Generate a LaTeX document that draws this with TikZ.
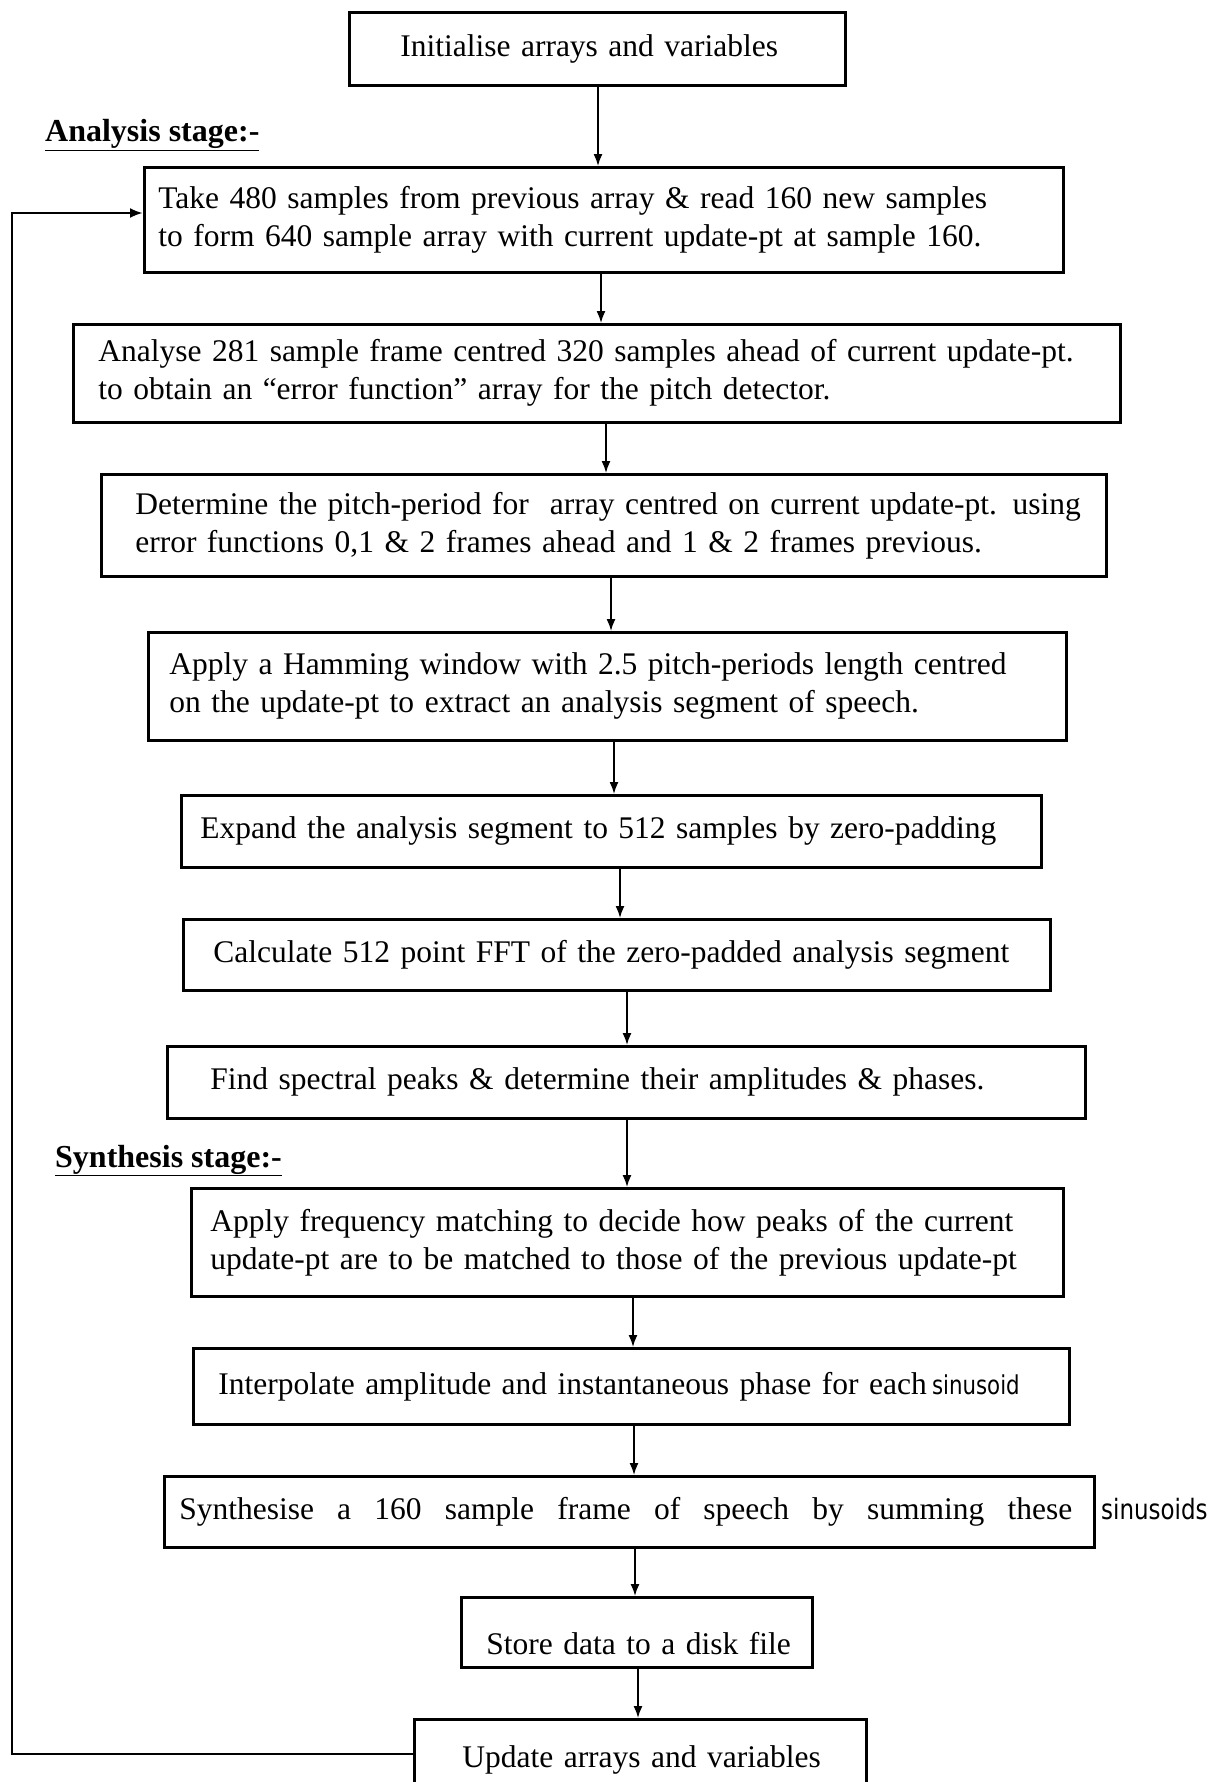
\documentclass[tikz,border=0pt]{standalone}
\usepackage{fontspec}
\setmainfont{Liberation Serif}
\newfontfamily\handfont[FakeStretch=0.82]{DejaVu Sans}
\usetikzlibrary{arrows.meta,calc}
\begin{document}
\begin{tikzpicture}[x=1pt,y=-1pt,
  box/.style={draw, line width=2.6pt, anchor=north west, inner ysep=0pt, align=left,
    font=\fontsize{31.5}{38}\selectfont},
  arr/.style={line width=1.6pt, -{Latex[length=12pt,width=9pt]}},
  looparr/.style={line width=2.8pt, -{Latex[length=13pt,width=10pt]}},
  lab/.style={anchor=base west, inner sep=0pt, font=\fontsize{32}{38}\selectfont\bfseries},
  hand/.style={font=\handfont\fontsize{28}{28}\selectfont}
]
\useasboundingbox (0,0) rectangle (1216,1782);
\clip (0,0) rectangle (1216,1782);

\node[box, minimum height=73pt, inner xsep=51pt, text width=394pt] (b1) at (348,11)
  {\mbox{Initialise arrays and variables}};
\node[lab] (la) at (45,142) {\underline{Analysis stage:-}};
\node[box, minimum height=105pt, inner xsep=14pt, text width=891pt] (b2) at (143,166)
  {\mbox{Take 480 samples from previous array \& read 160 new samples}\\
   \mbox{to form 640 sample array with current update-pt at sample 160.}};
\node[box, minimum height=98pt, inner xsep=25pt, text width=997pt] (b3) at (72,323)
  {\mbox{Analyse 281 sample frame centred 320 samples ahead of current update-pt.}\\
   \mbox{to obtain an ``error function'' array for the pitch detector.}};
\node[box, minimum height=102pt, inner xsep=34pt, text width=937pt] (b4) at (100,473)
  {\mbox{Determine the pitch-period for\ \ array centred on current update-pt. using}\\
   \mbox{error functions 0,1 \& 2 frames ahead and 1 \& 2 frames previous.}};
\node[box, minimum height=108pt, inner xsep=21pt, text width=876pt] (b5) at (147,631)
  {\mbox{Apply a Hamming window with 2.5 pitch-periods length centred}\\
   \mbox{on the update-pt to extract an analysis segment of speech.}};
\node[box, minimum height=72pt, inner xsep=19pt, text width=822pt] (b6) at (180,794)
  {\mbox{Expand the analysis segment to 512 samples by zero-padding}};
\node[box, minimum height=71pt, inner xsep=30pt, text width=807pt] (b7) at (182,918)
  {\mbox{Calculate 512 point FFT of the zero-padded analysis segment}};
\node[box, minimum height=72pt, inner xsep=43pt, text width=832pt] (b8) at (166,1045)
  {\mbox{Find spectral peaks \& determine their amplitudes \& phases.}};
\node[lab] (ls) at (55,1167) {\underline{Synthesis stage:-}};
\node[box, minimum height=108pt, inner xsep=19pt, text width=834pt] (b9) at (190,1187)
  {\mbox{Apply frequency matching to decide how peaks of the current}\\
   \mbox{update-pt are to be matched to those of the previous update-pt}};
\node[box, minimum height=76pt, inner xsep=25pt, text width=826pt] (b10) at (192,1347)
  {\mbox{Interpolate amplitude and instantaneous phase for each\,{\handfont\fontsize{26}{26}\selectfont sinusoid}}};
\node[box, minimum height=71pt, inner xsep=15pt, text width=900pt] (b11) at (163,1475)
  {\hbox to 893pt{Synthesise\hfill a\hfill 160\hfill sample\hfill frame\hfill of\hfill speech\hfill by\hfill summing\hfill these}};
\node[hand, anchor=base west, inner sep=0pt] (s2) at (1101,1519) {sinusoids};
\node[box, minimum height=70pt, inner xsep=25pt, text width=301pt, text height=44pt, text depth=0pt] (b12) at (460,1596)
  {\mbox{Store data to a disk file}};
\node[box, minimum height=82pt, inner xsep=48pt, text width=356pt] (b13) at (413,1718)
  {\mbox{Update arrays and variables}};

\coordinate (a1) at (598,0);
\coordinate (a2) at (601,0);
\coordinate (a3) at (606,0);
\coordinate (a4) at (611,0);
\coordinate (a5) at (614,0);
\coordinate (a6) at (620,0);
\coordinate (a7) at (627,0);
\coordinate (a8) at (627,0);
\coordinate (a9) at (633,0);
\coordinate (a10) at (634,0);
\coordinate (a11) at (635,0);
\coordinate (a12) at (638,0);

\draw[arr] (b1.south -| a1) -- (b2.north -| a1);
\draw[arr] (b2.south -| a2) -- (b3.north -| a2);
\draw[arr] (b3.south -| a3) -- (b4.north -| a3);
\draw[arr] (b4.south -| a4) -- (b5.north -| a4);
\draw[arr] (b5.south -| a5) -- (b6.north -| a5);
\draw[arr] (b6.south -| a6) -- (b7.north -| a6);
\draw[arr] (b7.south -| a7) -- (b8.north -| a7);
\draw[arr] (b8.south -| a8) -- (b9.north -| a8);
\draw[arr] (b9.south -| a9) -- (b10.north -| a9);
\draw[arr] (b10.south -| a10) -- (b11.north -| a10);
\draw[arr] (b11.south -| a11) -- (b12.north -| a11);
\draw[arr] (b12.south -| a12) -- (b13.north -| a12);

\coordinate (c1) at (12,1754);
\coordinate (c2) at (12,213);
\draw[looparr] (c1 -| b13.west) -- (c1) -- (c2) -- (c2 -| b2.west);
\end{tikzpicture}
\end{document}
